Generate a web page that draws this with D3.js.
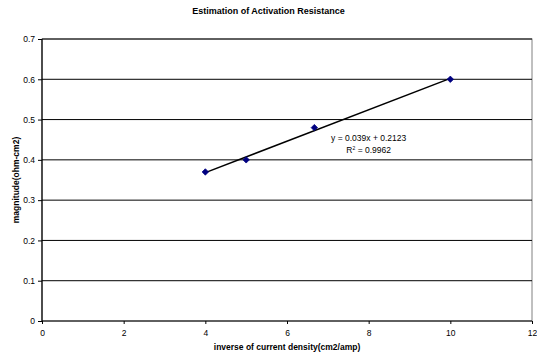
<!DOCTYPE html>
<html>
<head>
<meta charset="utf-8">
<script src="https://cdn.jsdelivr.net/npm/d3@7"></script>
<style>
  body { margin: 0; background: #fff; }
  text { font-family: "Liberation Sans", Arial, sans-serif; }
</style>
</head>
<body>
<div id="chart"></div>
<script>
var svgWidth = 537;
var svgHeight = 354;

var margin = { top: 39, right: 5, bottom: 33, left: 42 };
var width = svgWidth - margin.left - margin.right;
var height = svgHeight - margin.top - margin.bottom;

// data
var xValues = [4, 5, 6.67, 10];
var yValues = [0.37, 0.40, 0.48, 0.60];
var xTicks = [0, 2, 4, 6, 8, 10, 12];
var yTicks = [0, 0.1, 0.2, 0.3, 0.4, 0.5, 0.6, 0.7];
var slope = 0.039;
var intercept = 0.2123;
var trendLabels = ["y = 0.039x + 0.2123", "R2 = 0.9962"];

var svg = d3.select("#chart")
    .append("svg")
    .attr("width", svgWidth)
    .attr("height", svgHeight);

var chartGroup = svg.append("g")
    .attr("transform", `translate(${margin.left}, ${margin.top})`);

var xScale = d3.scaleLinear().domain([0, 12]).range([0, width]);
var yScale = d3.scaleLinear().domain([0, 0.7]).range([height, 0]);

// plot area border
chartGroup.append("rect")
    .attr("x", 0).attr("y", 0)
    .attr("width", width).attr("height", height)
    .attr("fill", "none")
    .attr("stroke", "#808080")
    .attr("stroke-width", 1);

// gridlines
chartGroup.selectAll(".grid")
    .data(yTicks.slice(1))
    .enter()
    .append("line")
    .attr("x1", 0).attr("x2", width)
    .attr("y1", d => yScale(d)).attr("y2", d => yScale(d))
    .attr("stroke", "#000")
    .attr("stroke-width", 1);

// axes
var leftAxis = d3.axisLeft(yScale)
    .tickValues(yTicks)
    .tickSize(4)
    .tickPadding(3)
    .tickFormat(d => d3.format("")(+d.toFixed(1)));
var bottomAxis = d3.axisBottom(xScale)
    .tickValues(xTicks)
    .tickSize(3)
    .tickPadding(6);

var yAxis = chartGroup.append("g").call(leftAxis);
var xAxis = chartGroup.append("g")
    .attr("transform", `translate(0, ${height})`)
    .call(bottomAxis);

[yAxis, xAxis].forEach(function(ax) {
    ax.select(".domain").attr("stroke", "#000").attr("stroke-width", 1.2);
    ax.selectAll(".tick line").attr("stroke", "#000");
    ax.selectAll(".tick text")
        .attr("fill", "#000")
        .style("font-size", "8.5px")
        .style("font-family", "Liberation Sans, Arial, sans-serif");
});
xAxis.select(".domain").attr("d", `M0,0H${width}`);
yAxis.select(".domain").attr("d", `M0,${height}V0`);

// trendline
chartGroup.append("line")
    .attr("x1", xScale(d3.min(xValues)))
    .attr("y1", yScale(slope * d3.min(xValues) + intercept))
    .attr("x2", xScale(d3.max(xValues)))
    .attr("y2", yScale(slope * d3.max(xValues) + intercept))
    .attr("stroke", "#000")
    .attr("stroke-width", 1.5);

// markers
chartGroup.selectAll(".point")
    .data(xValues)
    .enter()
    .append("path")
    .attr("d", d3.symbol().type(d3.symbolDiamond2).size(26))
    .attr("transform", (d, i) => `translate(${xScale(d)}, ${yScale(yValues[i])})`)
    .attr("fill", "#000080")
    .attr("stroke", "#000080")
    .attr("stroke-width", 0.8);

// equation
var eq = chartGroup.append("g")
    .attr("transform", `translate(${xScale(8.0)}, ${yScale(0.448)})`);
eq.append("text")
    .attr("text-anchor", "middle")
    .style("font-size", "8.5px")
    .text(trendLabels[0]);
var r2 = eq.append("text")
    .attr("y", 12)
    .attr("text-anchor", "middle")
    .style("font-size", "8.5px");
r2.append("tspan").text("R");
r2.append("tspan").attr("dy", -3).style("font-size", "5px").text("2");
r2.append("tspan").attr("dy", 3).text(trendLabels[1].slice(2));

// title
svg.append("text")
    .attr("x", svgWidth / 2)
    .attr("y", 14)
    .attr("text-anchor", "middle")
    .style("font-size", "9px")
    .style("font-weight", "bold")
    .text("Estimation of Activation Resistance");

// x axis title
svg.append("text")
    .attr("x", margin.left + width / 2)
    .attr("y", 350)
    .attr("text-anchor", "middle")
    .style("font-size", "8.5px")
    .style("font-weight", "bold")
    .text("inverse of current density(cm2/amp)");

// y axis title
svg.append("text")
    .attr("transform", "rotate(-90)")
    .attr("x", -(margin.top + height / 2))
    .attr("y", 19)
    .attr("text-anchor", "middle")
    .style("font-size", "8.5px")
    .style("font-weight", "bold")
    .text("magnitude(ohm-cm2)");
</script>
</body>
</html>
